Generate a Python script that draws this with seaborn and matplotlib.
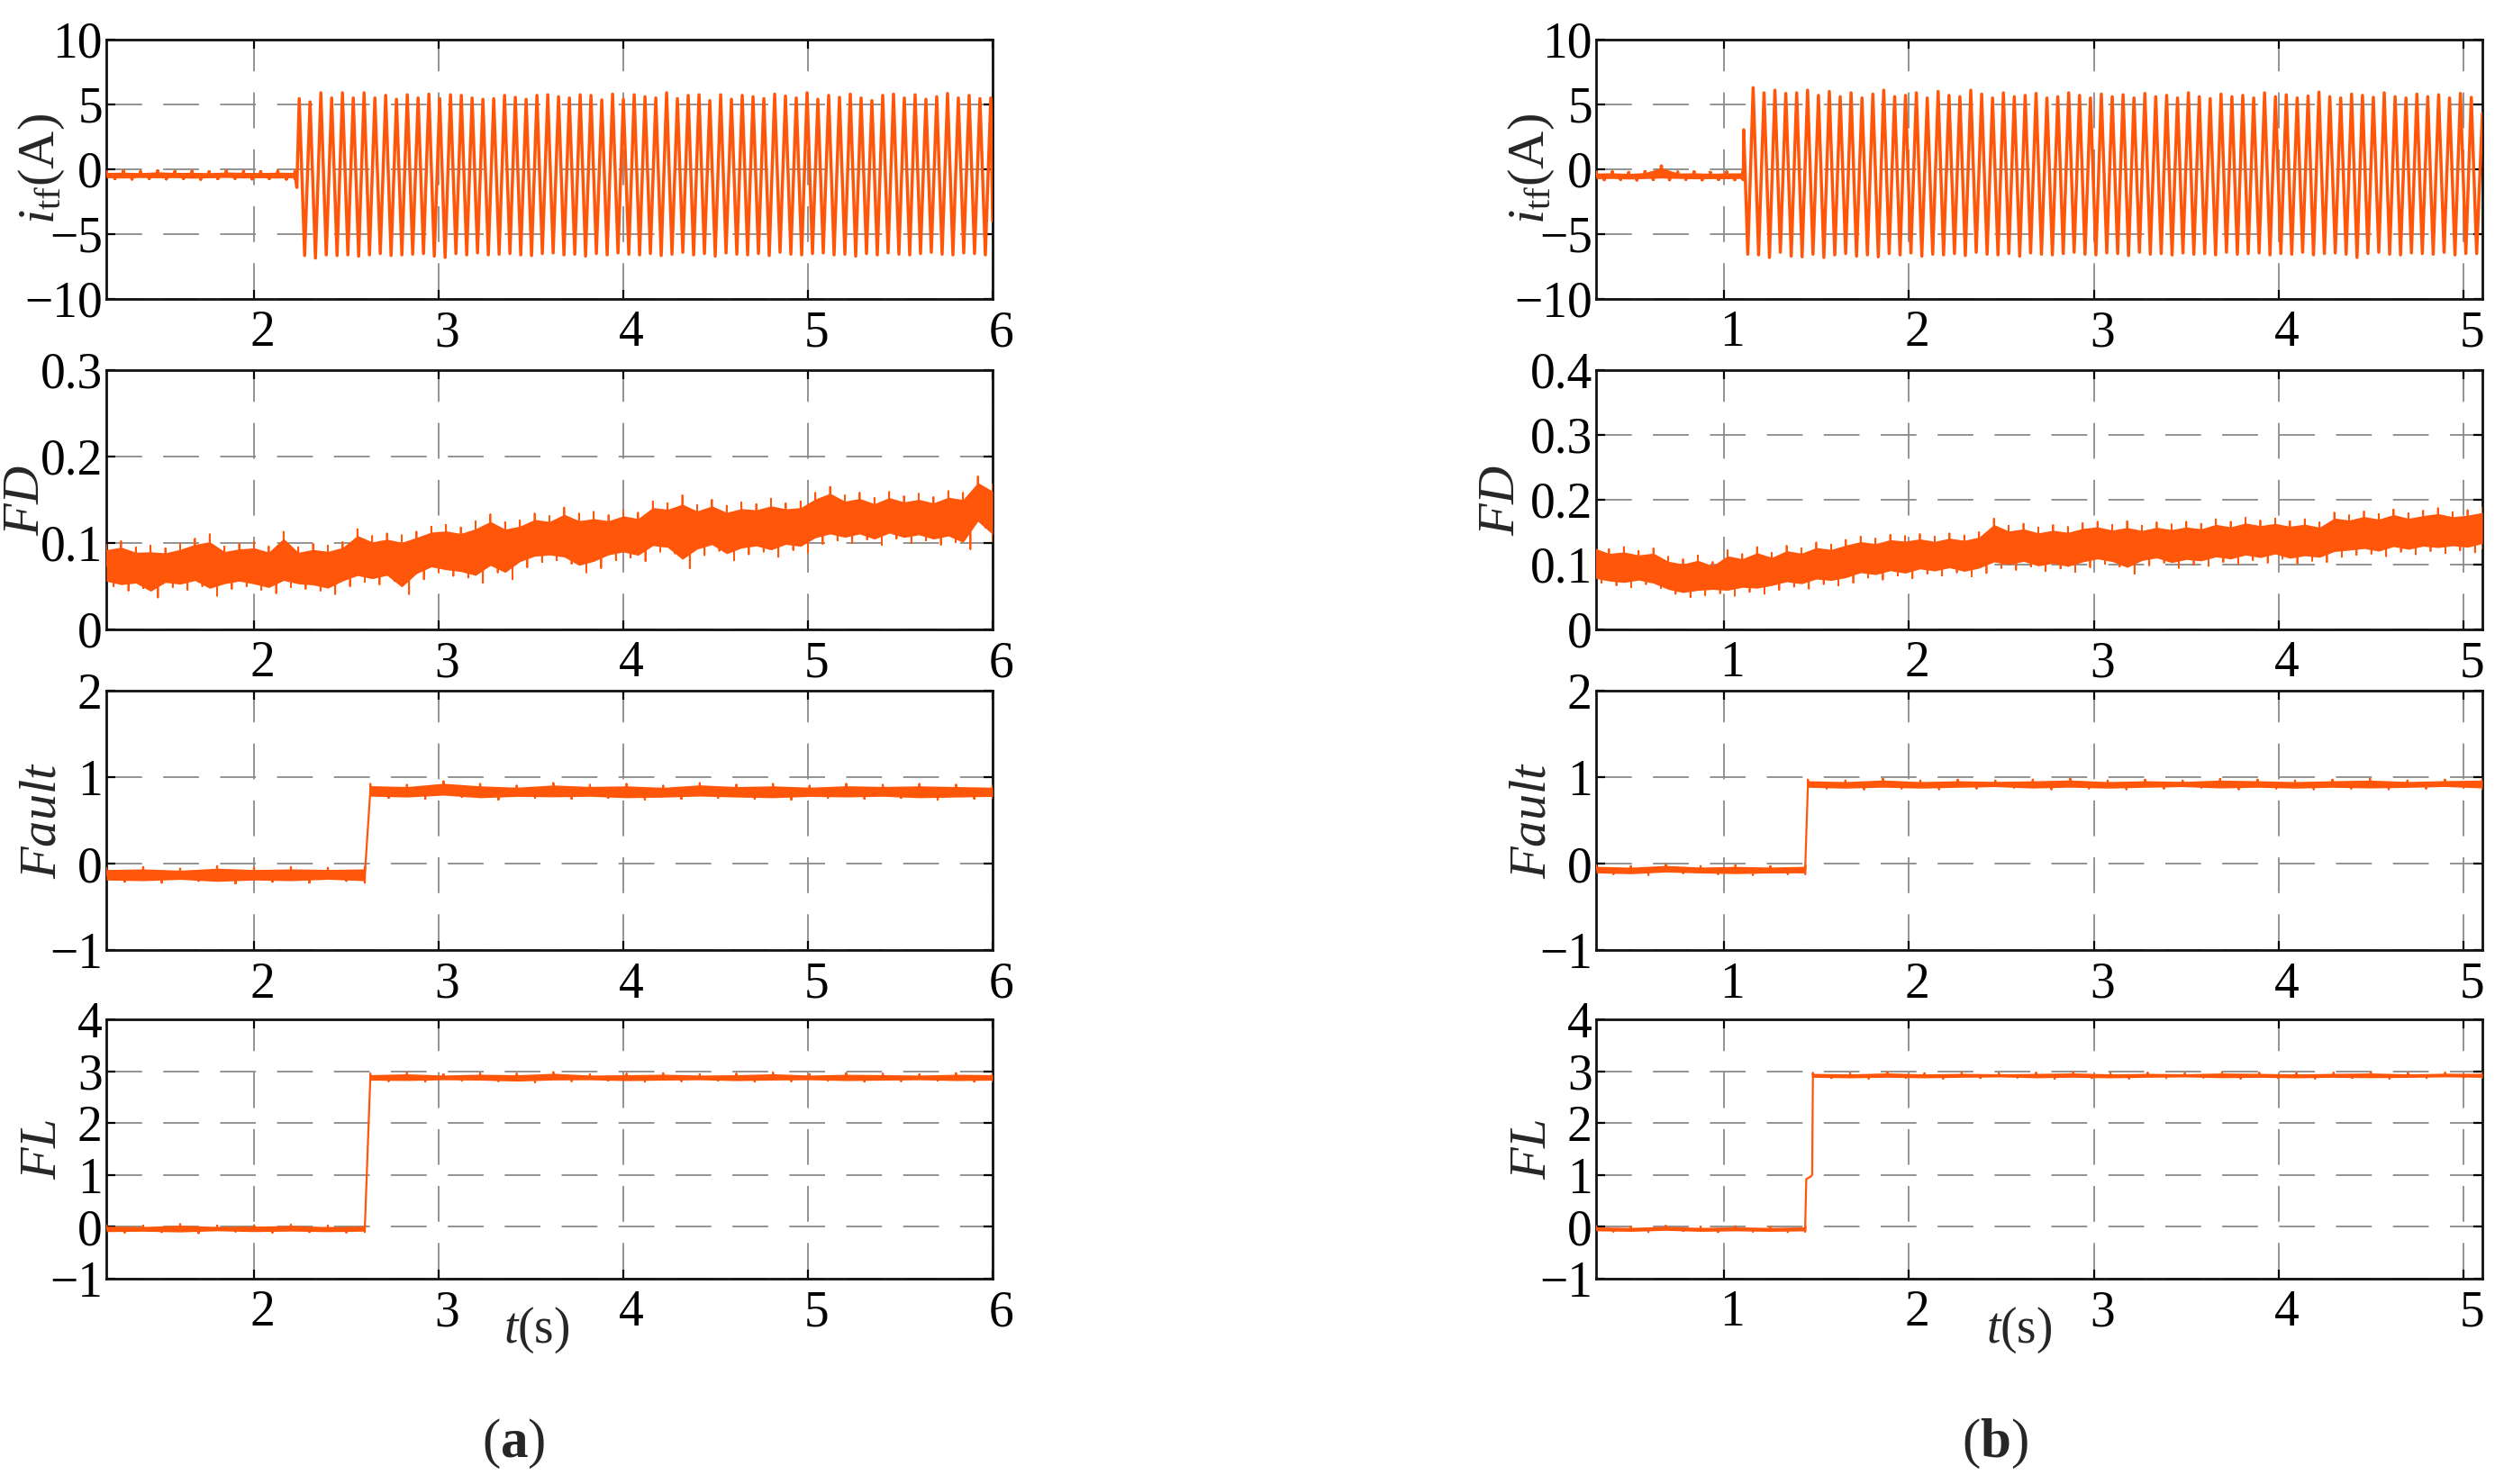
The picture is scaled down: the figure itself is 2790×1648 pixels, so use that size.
import numpy as np
import pandas as pd
import matplotlib
matplotlib.use("Agg")
import matplotlib.pyplot as plt
from matplotlib.transforms import ScaledTranslation
import seaborn as sns

sns.set_style("ticks")
plt.rcParams['font.family'] = ['Liberation Serif', 'DejaVu Serif']
plt.rcParams['mathtext.fontset'] = 'custom'
plt.rcParams['mathtext.rm'] = 'Liberation Serif'
plt.rcParams['mathtext.it'] = 'Liberation Serif:italic'
plt.rcParams['mathtext.bf'] = 'Liberation Serif:bold'
plt.rcParams['axes.unicode_minus'] = True

ORANGE = '#FF560A'

# ---------------- (a) ----------------
# current i_tf : pre-fault band, jump, then turning points of the oscillation
ia_pre_span = (1.2, 2.222)
ia_pre_hi = [-0.18, -0.15, -0.2, -0.12, -0.18, -0.16, -0.2, -0.14, -0.17, -0.19, -0.15, -0.18]
ia_pre_lo = [-0.72, -0.75, -0.7, -0.74, -0.71, -0.76, -0.72, -0.7, -0.74, -0.72, -0.75, -0.71]
ia_jump_t = [2.224, 2.232]
ia_jump_v = [-0.45, -1.4]
ia_osc_span = (2.245, 5.99)
ia_peaks = [5.45, 5.2, 5.9, 5.5, 5.9, 5.5, 5.9, 5.5, 5.7, 5.4, 5.75, 5.5, 5.8, 5.45, 5.75, 5.7,
            5.5, 5.4, 5.45, 5.7, 5.55, 5.4, 5.7, 5.75, 5.6, 5.5, 5.75, 5.7, 5.35, 5.8, 5.4, 5.75,
            5.6, 5.5, 5.9, 5.45, 5.7, 5.75, 5.3, 5.75, 5.4, 5.7, 5.6, 5.45, 5.8, 5.65, 5.5, 5.9,
            5.4, 5.7, 5.55, 5.8, 5.5, 5.3, 5.7, 5.8, 5.5, 5.75, 5.4, 5.6, 5.85, 5.5, 5.7, 5.45, 5.5]
ia_troughs = [-6.65, -6.85, -6.6, -6.65, -6.6, -6.7, -6.6, -6.5, -6.65, -6.6, -6.55, -6.5, -6.7,
              -6.8, -6.5, -6.6, -6.45, -6.6, -6.55, -6.5, -6.6, -6.65, -6.5, -6.45, -6.6, -6.55,
              -6.7, -6.5, -6.6, -6.45, -6.55, -6.6, -6.5, -6.65, -6.55, -6.4, -6.6, -6.5, -6.7,
              -6.45, -6.55, -6.6, -6.5, -6.65, -6.4, -6.55, -6.6, -6.5, -6.45, -6.6, -6.55, -6.7,
              -6.5, -6.6, -6.45, -6.55, -6.6, -6.5, -6.4, -6.55, -6.6, -6.45, -6.5, -6.6]
ia_end_t = [6.0]
ia_end_v = [-4.0]

# FD : per-bin max / min of the noisy trace
fda_span = (1.2, 6.0)
fda_hi = [0.098, 0.102, 0.095, 0.097, 0.094, 0.099, 0.105, 0.110, 0.096, 0.099, 0.101, 0.096,
          0.113, 0.095, 0.099, 0.097, 0.101, 0.116, 0.108, 0.111, 0.109, 0.113, 0.119, 0.121,
          0.118, 0.125, 0.133, 0.124, 0.126, 0.134, 0.131, 0.141, 0.134, 0.136, 0.132, 0.138,
          0.135, 0.148, 0.146, 0.155, 0.144, 0.150, 0.143, 0.147, 0.145, 0.151, 0.146, 0.148,
          0.158, 0.165, 0.155, 0.158, 0.152, 0.159, 0.154, 0.157, 0.153, 0.160, 0.158, 0.177, 0.168]
fda_lo = [0.050, 0.045, 0.048, 0.037, 0.049, 0.046, 0.050, 0.039, 0.047, 0.050, 0.046, 0.042,
          0.049, 0.047, 0.045, 0.041, 0.050, 0.055, 0.052, 0.056, 0.041, 0.058, 0.066, 0.062,
          0.060, 0.054, 0.066, 0.058, 0.072, 0.078, 0.080, 0.076, 0.066, 0.071, 0.080, 0.083,
          0.079, 0.090, 0.088, 0.071, 0.086, 0.091, 0.080, 0.087, 0.090, 0.084, 0.092, 0.089,
          0.099, 0.103, 0.100, 0.104, 0.098, 0.105, 0.100, 0.103, 0.098, 0.101, 0.093, 0.118, 0.102]

# Fault
faulta_pre_span = (1.2, 2.60)
faulta_pre_hi = [-0.05, -0.04, -0.06, -0.03, -0.05, -0.04, -0.05, -0.04]
faulta_pre_lo = [-0.21, -0.22, -0.2, -0.23, -0.21, -0.22, -0.2, -0.22]
faulta_post_span = (2.63, 6.0)
faulta_post_hi = [0.92, 0.91, 0.95, 0.92, 0.90, 0.93, 0.91, 0.92, 0.90, 0.93, 0.91, 0.92,
                  0.90, 0.92, 0.91, 0.92, 0.91, 0.90]
faulta_post_lo = [0.76, 0.75, 0.77, 0.74, 0.76, 0.75, 0.76, 0.74, 0.75, 0.76, 0.75, 0.74,
                  0.76, 0.75, 0.76, 0.74, 0.75, 0.76]

# FL
fla_pre_span = (1.2, 2.60)
fla_pre_hi = [0.03, 0.02, 0.05, 0.02, 0.03, 0.04, 0.02, 0.03]
fla_pre_lo = [-0.11, -0.1, -0.12, -0.09, -0.11, -0.1, -0.11, -0.1]
fla_post_span = (2.63, 6.0)
fla_post_hi = [2.95, 2.97, 2.94, 2.96, 2.95, 2.98, 2.94, 2.95, 2.96, 2.94, 2.95, 2.97,
               2.94, 2.96, 2.95, 2.94, 2.96, 2.95]
fla_post_lo = [2.81, 2.80, 2.82, 2.81, 2.79, 2.81, 2.82, 2.80, 2.81, 2.82, 2.80, 2.81,
               2.82, 2.80, 2.81, 2.82, 2.80, 2.81]

# ---------------- (b) ----------------
ib_pre_span = (0.31, 1.104)
ib_pre_hi = [-0.22, -0.2, -0.25, -0.18, 0.25, -0.22, -0.2, -0.24, -0.21, -0.2]
ib_pre_lo = [-0.8, -0.78, -0.82, -0.79, -0.8, -0.77, -0.81, -0.79, -0.8, -0.78]
ib_jump_t = [1.106, 1.108, 1.130]
ib_jump_v = [-0.5, 3.05, -6.55]
ib_osc_span = (1.159, 5.040)
ib_peaks = [6.3, 5.9, 6.1, 5.85, 5.9, 6.1, 5.7, 6.0, 5.6, 5.9, 5.5, 5.8, 6.1, 5.6, 5.7, 5.9,
            5.5, 6.0, 5.7, 5.6, 6.1, 5.8, 5.5, 5.9, 5.6, 5.7, 5.85, 5.5, 5.6, 5.9, 5.7, 5.5,
            5.8, 5.6, 5.75, 5.5, 5.85, 5.6, 5.7, 5.5, 5.9, 5.6, 5.45, 5.8, 5.6, 5.7, 5.5, 5.9,
            5.6, 5.75, 5.5, 5.65, 5.95, 5.6, 5.5, 5.8, 5.7, 5.55, 5.9, 5.6, 5.5, 5.8, 5.6, 5.75,
            5.5, 5.85, 5.55]
ib_troughs = [-6.6, -6.8, -6.4, -6.7, -6.75, -6.55, -6.8, -6.6, -6.5, -6.7, -6.6, -6.75, -6.5,
              -6.6, -6.45, -6.7, -6.55, -6.6, -6.5, -6.65, -6.4, -6.55, -6.6, -6.5, -6.7, -6.45,
              -6.55, -6.6, -6.5, -6.4, -6.55, -6.6, -6.45, -6.5, -6.65, -6.4, -6.55, -6.5, -6.6,
              -6.45, -6.55, -6.5, -6.6, -6.4, -6.55, -6.5, -6.45, -6.6, -6.5, -6.55, -6.4, -6.6,
              -6.5, -6.45, -6.55, -6.8, -6.5, -6.4, -6.55, -6.6, -6.45, -6.5, -6.55, -6.4, -6.6, -6.5]
ib_end_t = [5.069, 5.10]
ib_end_v = [-6.5, 4.3]

fdb_span = (0.30, 5.10)
fdb_hi = [0.133, 0.124, 0.127, 0.121, 0.125, 0.112, 0.108, 0.114, 0.104, 0.122, 0.116, 0.127,
          0.118, 0.129, 0.125, 0.134, 0.131, 0.138, 0.143, 0.140, 0.146, 0.144, 0.147, 0.143,
          0.148, 0.145, 0.150, 0.171, 0.160, 0.163, 0.157, 0.161, 0.158, 0.164, 0.166, 0.161,
          0.167, 0.160, 0.165, 0.162, 0.166, 0.163, 0.170, 0.166, 0.172, 0.168, 0.171, 0.167,
          0.170, 0.165, 0.180, 0.176, 0.182, 0.178, 0.185, 0.179, 0.183, 0.187, 0.181, 0.184, 0.188]
fdb_lo = [0.072, 0.068, 0.065, 0.070, 0.064, 0.055, 0.050, 0.053, 0.056, 0.052, 0.058, 0.055,
          0.061, 0.066, 0.063, 0.070, 0.068, 0.072, 0.080, 0.077, 0.083, 0.079, 0.086, 0.083,
          0.088, 0.082, 0.087, 0.095, 0.092, 0.097, 0.090, 0.094, 0.089, 0.096, 0.101, 0.097,
          0.086, 0.099, 0.103, 0.095, 0.100, 0.098, 0.104, 0.101, 0.107, 0.103, 0.109, 0.102,
          0.106, 0.104, 0.112, 0.115, 0.117, 0.113, 0.120, 0.116, 0.121, 0.118, 0.122, 0.119, 0.125]

faultb_pre_span = (0.31, 1.44)
faultb_pre_hi = [-0.02, -0.03, -0.01, -0.03, -0.02, -0.03, -0.02]
faultb_pre_lo = [-0.12, -0.13, -0.11, -0.12, -0.13, -0.12, -0.12]
faultb_post_span = (1.455, 5.1)
faultb_post_hi = [0.97, 0.96, 0.98, 0.96, 0.97, 0.96, 0.97, 0.98, 0.96, 0.97, 0.96, 0.98,
                  0.97, 0.96, 0.97, 0.98, 0.96, 0.97, 0.98]
faultb_post_lo = [0.87, 0.86, 0.87, 0.86, 0.87, 0.88, 0.86, 0.87, 0.86, 0.87, 0.88, 0.86,
                  0.87, 0.86, 0.87, 0.86, 0.87, 0.88, 0.86]

flb_pre_span = (0.31, 1.44)
flb_pre_hi = [0.01, 0.0, 0.02, 0.0, 0.01, 0.0, 0.01]
flb_pre_lo = [-0.09, -0.1, -0.08, -0.1, -0.09, -0.1, -0.09]
flb_mid_t = [1.446, 1.470, 1.478]
flb_mid_v = [0.92, 0.97, 1.0]
flb_post_span = (1.482, 5.1)
flb_post_hi = [2.97, 2.96, 2.98, 2.96, 2.97, 2.96, 2.97, 2.98, 2.96, 2.97, 2.96, 2.98,
               2.97, 2.96, 2.97, 2.98, 2.96, 2.97, 2.97]
flb_post_lo = [2.87, 2.86, 2.87, 2.86, 2.87, 2.88, 2.86, 2.87, 2.86, 2.87, 2.88, 2.86,
               2.87, 2.86, 2.87, 2.86, 2.87, 2.88, 2.87]

# axis settings
ylabels = [r'$i_{\rm tf}$(A)', r'$FD$', r'$Fault$', r'$FL$']
ylims = [(-10, 10), None, (-1, 2), (-1, 4)]
yticks = [[-10, -5, 0, 5, 10], None, [-1, 0, 1, 2], [-1, 0, 1, 2, 3, 4]]
fd_ylims = [(0, 0.3), (0, 0.4)]
fd_yticks = [[0, 0.1, 0.2, 0.3], [0, 0.1, 0.2, 0.3, 0.4]]
xlims = [(1.2, 6.0), (0.31, 5.1)]
xticks = [[2, 3, 4, 5, 6], [1, 2, 3, 4, 5]]
panel_tags = ['a', 'b']


def interleave(a, b):
    out = []
    for i in range(max(len(a), len(b))):
        if i < len(a):
            out.append(a[i])
        if i < len(b):
            out.append(b[i])
    return out


def band_trace(ax, span, hi, lo, core=0.12):
    # solid core of the noisy band, and the spikes up to the per-bin max / min
    t = np.linspace(span[0], span[1], len(hi))
    hi = np.asarray(hi, float)
    lo = np.asarray(lo, float)
    mid = (hi + lo) / 2
    ax.fill_between(t, lo + core * (hi - lo), hi - core * (hi - lo),
                    color=ORANGE, lw=0, zorder=3)
    tz, vz = [], []
    for i in range(len(t)):
        tz += [t[i], t[i], t[i]]
        vz += [mid[i], hi[i], mid[i]]
        if i < len(t) - 1:
            tm = (t[i] + t[i + 1]) / 2
            mm = (mid[i] + mid[i + 1]) / 2
            tz += [tm, tm, tm]
            vz += [mm, lo[i], mm]
        else:
            tz += [t[i], t[i]]
            vz += [lo[i], mid[i]]
    return np.array(tz), np.array(vz)


def draw(ax, pieces, lw=2.2):
    ts, vs = [], []
    for p in pieces:
        if p[0] == 'band':
            _, span, hi, lo = p
            tz, vz = band_trace(ax, span, hi, lo)
            ts.append(tz)
            vs.append(vz)
        elif p[0] == 'osc':
            _, span, v = p
            ts.append(np.linspace(span[0], span[1], len(v)))
            vs.append(np.asarray(v, float))
        else:
            _, t, v = p
            ts.append(np.asarray(t, float))
            vs.append(np.asarray(v, float))
    df = pd.DataFrame({'t': np.concatenate(ts), 'v': np.concatenate(vs)})
    sns.lineplot(data=df, x='t', y='v', ax=ax, color=ORANGE, lw=lw,
                 estimator=None, sort=False, legend=False, zorder=4)


series = {
    (0, 0): [('band', ia_pre_span, ia_pre_hi, ia_pre_lo), ('pts', ia_jump_t, ia_jump_v),
             ('osc', ia_osc_span, interleave(ia_peaks, ia_troughs)), ('pts', ia_end_t, ia_end_v)],
    (1, 0): [('band', fda_span, fda_hi, fda_lo)],
    (2, 0): [('band', faulta_pre_span, faulta_pre_hi, faulta_pre_lo),
             ('band', faulta_post_span, faulta_post_hi, faulta_post_lo)],
    (3, 0): [('band', fla_pre_span, fla_pre_hi, fla_pre_lo),
             ('band', fla_post_span, fla_post_hi, fla_post_lo)],
    (0, 1): [('band', ib_pre_span, ib_pre_hi, ib_pre_lo), ('pts', ib_jump_t, ib_jump_v),
             ('osc', ib_osc_span, interleave(ib_peaks, ib_troughs)), ('pts', ib_end_t, ib_end_v)],
    (1, 1): [('band', fdb_span, fdb_hi, fdb_lo)],
    (2, 1): [('band', faultb_pre_span, faultb_pre_hi, faultb_pre_lo),
             ('band', faultb_post_span, faultb_post_hi, faultb_post_lo)],
    (3, 1): [('band', flb_pre_span, flb_pre_hi, flb_pre_lo), ('pts', flb_mid_t, flb_mid_v),
             ('band', flb_post_span, flb_post_hi, flb_post_lo)],
}

W, H = 2790, 1648
fig = plt.figure(figsize=(W / 100, H / 100), dpi=100)
col_x = [118, 1772]
col_w = 984
row_top = [44, 411, 767, 1132]
row_h = 288
label_x = [[-0.045, -0.064, -0.045, -0.045], [-0.045, -0.08, -0.045, -0.045]]
line_w = [2.5, 1.3, 1.6, 1.6]
xoff = ScaledTranslation(0.09, 0, fig.dpi_scale_trans)

for c in range(2):
    for r in range(4):
        ax = fig.add_axes([col_x[c] / W, 1 - (row_top[r] + row_h) / H, col_w / W, row_h / H])
        draw(ax, series[(r, c)], lw=line_w[r])
        ax.set_xlim(*xlims[c])
        ax.set_xticks(xticks[c])
        if r == 1:
            ax.set_ylim(*fd_ylims[c])
            ax.set_yticks(fd_yticks[c])
            ax.set_yticklabels(['0'] + ['%.1f' % v for v in fd_yticks[c][1:]])
        else:
            ax.set_ylim(*ylims[r])
            ax.set_yticks(yticks[r])
        ax.set_xlabel('')
        ax.set_ylabel(ylabels[r], fontsize=42)
        ax.yaxis.set_label_coords(label_x[c][r], 0.5)
        ax.set_axisbelow(True)
        ax.grid(True, color='#8a8a8a', lw=1.3, linestyle=(0, (22, 13)))
        ax.tick_params(direction='in', length=7, width=1.6, top=True, right=True,
                       labelsize=40, colors='black')
        ax.tick_params(axis='y', pad=3)
        ax.tick_params(axis='x', pad=9)
        for lab in ax.get_xticklabels():
            lab.set_transform(lab.get_transform() + xoff)
        for sp in ax.spines.values():
            sp.set_visible(True)
            sp.set_linewidth(2.0)
            sp.set_color('#111111')

for c, (tx, ty) in enumerate([(596, 1477), (2242, 1477)]):
    fig.text(tx / W, 1 - ty / H, r'$t$(s)', fontsize=40, ha='center', va='center')
for c, tx in enumerate([570, 2215]):
    fig.text(tx / W, 1 - 1603 / H, r'(' + r'$\mathbf{' + panel_tags[c] + r'}$' + ')',
             fontsize=44, ha='center', va='center')

fig.savefig('out.png', dpi=100, facecolor='white')
